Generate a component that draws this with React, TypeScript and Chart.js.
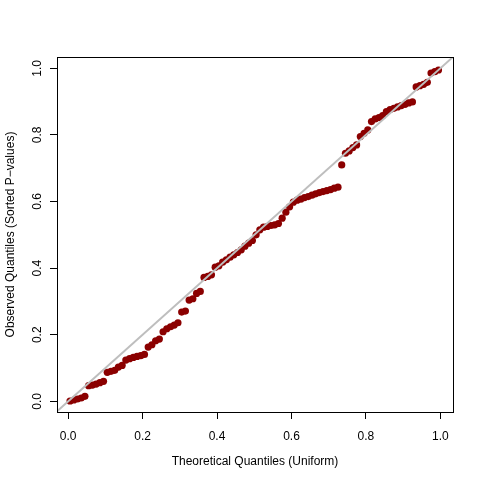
import React, { useEffect, useRef } from "react";
import { Chart, registerables } from "chart.js";

Chart.register(...registerables);

const theoreticalQuantiles = [
  0.005, 0.015, 0.025, 0.035, 0.045, 0.055, 0.065, 0.075, 0.085, 0.095,
  0.105, 0.115, 0.125, 0.135, 0.145, 0.155, 0.165, 0.175, 0.185, 0.195,
  0.205, 0.215, 0.225, 0.235, 0.245, 0.255, 0.265, 0.275, 0.285, 0.295,
  0.305, 0.315, 0.325, 0.335, 0.345, 0.355, 0.365, 0.375, 0.385, 0.395,
  0.405, 0.415, 0.425, 0.435, 0.445, 0.455, 0.465, 0.475, 0.485, 0.495,
  0.505, 0.515, 0.525, 0.535, 0.545, 0.555, 0.565, 0.575, 0.585, 0.595,
  0.605, 0.615, 0.625, 0.635, 0.645, 0.655, 0.665, 0.675, 0.685, 0.695,
  0.705, 0.715, 0.725, 0.735, 0.745, 0.755, 0.765, 0.775, 0.785, 0.795,
  0.805, 0.815, 0.825, 0.835, 0.845, 0.855, 0.865, 0.875, 0.885, 0.895,
  0.905, 0.915, 0.925, 0.935, 0.945, 0.955, 0.965, 0.975, 0.985, 0.995,
];

const observedQuantiles = [
  0.001, 0.004, 0.007, 0.010, 0.015, 0.047, 0.049, 0.052, 0.056, 0.060,
  0.087, 0.090, 0.093, 0.103, 0.108, 0.124, 0.128, 0.132, 0.135, 0.137,
  0.141, 0.163, 0.170, 0.182, 0.187, 0.209, 0.218, 0.224, 0.229, 0.236,
  0.268, 0.271, 0.304, 0.308, 0.324, 0.330, 0.372, 0.375, 0.380, 0.403,
  0.407, 0.418, 0.425, 0.433, 0.440, 0.447, 0.455, 0.466, 0.475, 0.483,
  0.500, 0.515, 0.523, 0.525, 0.528, 0.530, 0.534, 0.550, 0.568, 0.584,
  0.598, 0.604, 0.607, 0.612, 0.615, 0.619, 0.623, 0.627, 0.630, 0.633,
  0.636, 0.640, 0.643, 0.710, 0.745, 0.752, 0.762, 0.770, 0.795, 0.805,
  0.815, 0.840, 0.848, 0.852, 0.858, 0.870, 0.876, 0.880, 0.884, 0.888,
  0.892, 0.896, 0.899, 0.944, 0.948, 0.952, 0.958, 0.986, 0.990, 0.995,
];

const referenceLineEnds = [-0.1, 1.1];
const tickValues = [0, 0.2, 0.4, 0.6, 0.8, 1.0];

const xTitle = "Theoretical Quantiles (Uniform)";
const yTitle = "Observed Quantiles (Sorted P\u2212values)";

const FONT = "'Liberation Sans', Arial, Helvetica, sans-serif";

export default function App() {
  const canvasRef = useRef<HTMLCanvasElement | null>(null);

  useEffect(() => {
    document.body.style.margin = "0";
    const canvas = canvasRef.current;
    if (!canvas) return;

    const boxPlugin = {
      id: "boxPlugin",
      afterDraw(chart: any) {
        const { ctx, chartArea } = chart;
        ctx.save();
        ctx.strokeStyle = "#000000";
        ctx.lineWidth = 1;
        ctx.strokeRect(
          Math.round(chartArea.left) + 0.5,
          Math.round(chartArea.top) + 0.5,
          Math.round(chartArea.right - chartArea.left),
          Math.round(chartArea.bottom - chartArea.top)
        );
        ctx.restore();
      },
    };

    const setTicks = (scale: any) => {
      scale.ticks = tickValues.map((v) => ({ value: v }));
    };

    const chart = new Chart(canvas, {
      type: "scatter",
      data: {
        datasets: [
          {
            type: "line",
            label: "y = x",
            data: referenceLineEnds.map((v) => ({ x: v, y: v })),
            borderColor: "#bebebe",
            borderWidth: 2,
            pointRadius: 0,
            fill: false,
            clip: 0,
            order: 0,
          } as any,
          {
            label: "Observed",
            data: theoreticalQuantiles.map((x, i) => ({ x, y: observedQuantiles[i] })),
            backgroundColor: "#8b0000",
            borderColor: "#8b0000",
            borderWidth: 0,
            pointRadius: 3.6,
            order: 1,
          },
        ],
      },
      options: {
        animation: false,
        responsive: false,
        maintainAspectRatio: false,
        layout: { padding: { top: 57, right: 32, left: 0, bottom: 0 } },
        plugins: {
          legend: { display: false },
          tooltip: { enabled: false },
        },
        scales: {
          x: {
            type: "linear",
            min: -0.030,
            max: 1.034,
            afterBuildTicks: setTicks,
            afterFit: (scale: any) => {
              scale.height = 73;
            },
            grid: {
              display: true,
              drawOnChartArea: false,
              drawTicks: true,
              tickLength: 7,
              color: "#000000",
              lineWidth: 1,
            },
            border: { display: false },
            ticks: {
              padding: 10,
              color: "#000000",
              font: { family: FONT, size: 12 },
              maxRotation: 0,
              minRotation: 0,
              callback: (v: any) => Number(v).toFixed(1),
            },
            title: {
              display: true,
              text: xTitle,
              color: "#000000",
              font: { family: FONT, size: 12 },
              padding: { top: 0, bottom: 16 },
            },
          },
          y: {
            type: "linear",
            min: -0.032,
            max: 1.034,
            afterBuildTicks: setTicks,
            afterFit: (scale: any) => {
              scale.width = 57;
            },
            grid: {
              display: true,
              drawOnChartArea: false,
              drawTicks: true,
              tickLength: 7,
              color: "#000000",
              lineWidth: 1,
            },
            border: { display: false },
            ticks: {
              padding: 4,
              color: "#000000",
              font: { family: FONT, size: 12 },
              minRotation: 90,
              maxRotation: 90,
              crossAlign: "center",
              callback: (v: any) => Number(v).toFixed(1),
            },
            title: {
              display: true,
              text: yTitle,
              color: "#000000",
              font: { family: FONT, size: 12 },
              padding: { top: 3, bottom: 0 },
            },
          },
        },
      },
      plugins: [boxPlugin],
    });

    return () => {
      chart.destroy();
    };
  }, []);

  return (
    <div style={{ position: "fixed", left: 0, top: 0, width: 485, height: 485, background: "#ffffff" }}>
      <canvas ref={canvasRef} width={485} height={485} />
    </div>
  );
}
